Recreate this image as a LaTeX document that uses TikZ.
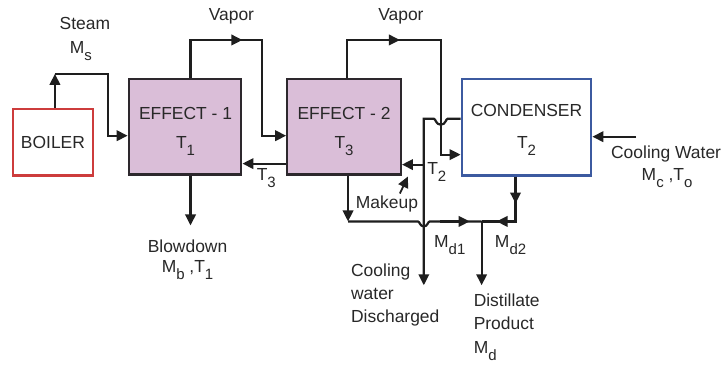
\documentclass[tikz,border=0pt]{standalone}
\usepackage{fontspec}
\setmainfont{Liberation Sans}
\usetikzlibrary{arrows.meta}
\newcommand\sbs[1]{\raisebox{-0.4em}{\fontsize{15}{15}\selectfont #1}}
\definecolor{effill}{RGB}{218,190,216}
\definecolor{efdraw}{RGB}{45,40,45}
\definecolor{boilred}{RGB}{205,60,60}
\definecolor{condblue}{RGB}{60,90,160}
\definecolor{ink}{RGB}{30,30,30}
\definecolor{txt}{RGB}{40,40,40}
\begin{document}
\begin{tikzpicture}[x=1pt,y=-1pt,
  font=\fontsize{17.5}{21}\selectfont,
  line width=2.2pt, draw=ink, text=txt,
  every path/.style={draw=ink},
  arr/.style={-{Triangle[length=11pt,width=10.5pt]}},
  box/.style={rectangle, inner sep=0pt, line width=2.2pt},
  effbox/.style={box, draw=efdraw, fill=effill, minimum width=113pt, minimum height=96pt},
  lbl/.style={inner sep=0pt}]
\useasboundingbox (0,0) rectangle (724,367);
\fill[white] (0,0) rectangle (724,367);

% boxes
\node[box, draw=boilred, fill=white, minimum width=80pt, minimum height=67pt] (boiler) at (52,141.5) {};
\node[effbox] (e1) at (184.5,126) {};
\node[effbox, minimum width=114pt] (e2) at (344,126) {};
\node[box, draw=condblue, fill=white, minimum width=130pt, minimum height=97pt] (cond) at (527,126.5) {};

% box texts
\node[lbl] (tboil) at (52,142) {BOILER};
\node[lbl] (te1) at (185,113) {EFFECT - 1};
\node[lbl] (te1t) at (185,145) {T\sbs{1}};
\node[lbl] (te2) at (344,113) {EFFECT - 2};
\node[lbl] (te2t) at (344,145) {T\sbs{3}};
\node[lbl] (tcond) at (527,110) {CONDENSER};
\node[lbl] (tcondt) at (527,145) {T\sbs{2}};

% coordinates
\coordinate (s1) at (54,73);
\coordinate (s2) at (107,73);
\coordinate (s3) at (107,135);
\coordinate (v1a) at (190,39);
\coordinate (v1b) at (262,39);
\coordinate (v1c) at (262,135);
\coordinate (v2a) at (347,39);
\coordinate (v2b) at (441,39);
\coordinate (v2c) at (441,154);
\coordinate (h0) at (424,118);
\coordinate (cwd) at (424,285);
\coordinate (b2) at (348,221);
\coordinate (j) at (482,221);
\coordinate (dp) at (482,285);
\coordinate (c1) at (516,221);
\coordinate (cw) at (637,136);
\coordinate (bd) at (190,225);

% steam
\draw[arr] (s1 |- boiler.north) -- (s1);
\draw[arr] (s1) -- (s2) -- (s3) -- (s3 -| e1.west);

% vapor 1
\draw[arr] (v1a |- e1.north) -- (v1a) -- (v1b) -- (v1c) -- (v1c -| e2.west);
\draw[arr] (v1a) -- (242,39);

% vapor 2
\draw[arr] (v2a |- e2.north) -- (v2a) -- (v2b) -- (v2c) -- (v2c -| cond.west);
\draw[arr] (v2a) -- (400,39);

% condenser cooling water outlet with hop
\draw[arr] (h0 -| cond.west) -- (448,118) .. controls (446,118) and (446,124) .. (441,124)
  .. controls (436,124) and (436,118) .. (434,118) -- (h0) -- (cwd);

% T2 and T3 returns
\draw[arr] (h0 |- 0,164) -- (e2.east |- 0,164);
\draw[arr] (e2.west |- 0,163) -- (e1.east |- 0,163);

% blowdown
\draw[arr] (bd |- e1.south) -- (bd);

% effect-2 distillate
\draw[arr] (b2 |- e2.south) -- (b2);
\draw (b2) -- (418,221) .. controls (420,221) and (420,226) .. (424,226)
  .. controls (428,226) and (428,221) .. (430,221) -- (j);
\draw[arr] (440,221) -- (470,221);

% condenser distillate
\draw (c1 |- cond.south) -- (c1) -- (j);
\draw[arr] (c1 |- cond.south) -- (516,203);
\draw[arr] (c1) -- (497,221);

% product
\draw[arr] (j) -- (dp);

% makeup
\coordinate (mk0) at (400,193);
\coordinate (mk1) at (408,176);
\draw[arr, line width=1.8pt] (mk0) -- (mk1);

% cooling water in
\draw[arr] (cw) -- (cw -| cond.east);

% labels
\node[lbl] (lsteam) at (84,22) {Steam};
\node[lbl] (lms) at (80,50) {M\sbs{s}};
\node[lbl] (lv1) at (231,15) {Vapor};
\node[lbl] (lv2) at (401,15) {Vapor};
\node[lbl] (lt3) at (266,178) {T\sbs{3}};
\node[lbl] (lt2) at (437,171) {T\sbs{2}};
\node[lbl] (lmk) at (387,204) {Makeup};
\node[lbl] (lbd) at (187,246) {Blowdown};
\node[lbl] (lmb) at (187,270) {M\sbs{b} ,T\sbs{1}};
\node[lbl] (lcw) at (667,153) {Cooling Water};
\node[lbl] (lmc) at (668,178) {M\sbs{c} ,T\sbs{o}};
\node[lbl] (lmd1) at (450,245) {M\sbs{d1}};
\node[lbl] (lmd2) at (511,245) {M\sbs{d2}};
\node[lbl, anchor=west, align=left, font=\fontsize{17.5}{23}\selectfont] (lcwd) at (350,295) {Cooling\\water\\Discharged};
\node[lbl, anchor=west, align=left, font=\fontsize{17.5}{23.5}\selectfont] (ldp) at (473,327) {Distillate\\Product\\M\sbs{d}};
\end{tikzpicture}
\end{document}
